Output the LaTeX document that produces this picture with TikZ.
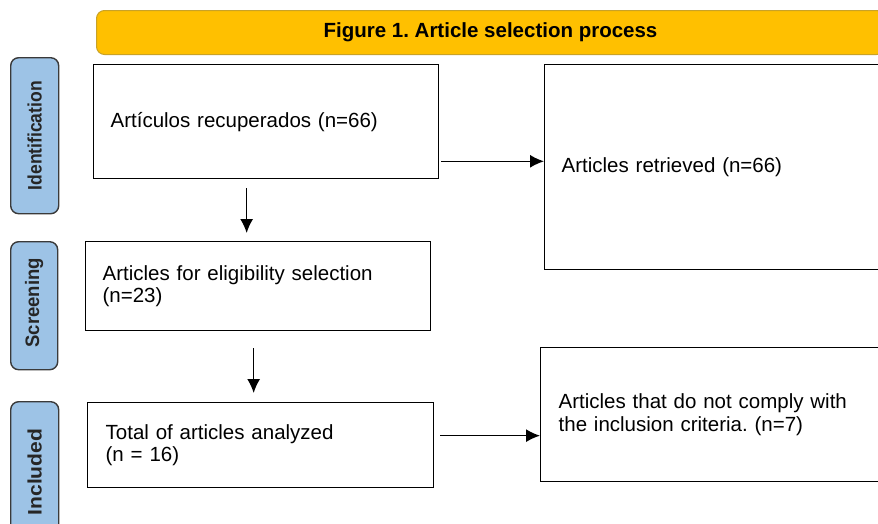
\documentclass[tikz,border=0pt]{standalone}
\usepackage{fontspec}
\setmainfont{Liberation Sans}
\usetikzlibrary{arrows.meta,calc}
\definecolor{titlegold}{HTML}{FFC000}
\definecolor{titleedge}{HTML}{C9A227}
\definecolor{stageblue}{HTML}{9DC3E6}
\definecolor{stageedge}{HTML}{3A3A3A}
\frenchspacing
\tikzset{
  txt/.style={font=\fontsize{20.5}{22.5}\selectfont},
  box/.style={draw=black, line width=1.3pt, fill=white, anchor=north west,
    inner xsep=17pt, inner ysep=0pt, align=left, txt},
  stage/.style={draw=stageedge, fill=stageblue, line width=1.4pt, rounded corners=8pt,
    anchor=north west, inner sep=0pt},
  stagelbl/.style={rotate=90, font=\fontsize{19.5}{22}\selectfont\bfseries, text=black!85},
  arr/.style={-{Latex[length=14pt,width=13pt]}, line width=1.4pt}
}
\begin{document}
\begin{tikzpicture}[x=1pt,y=-1pt]
\useasboundingbox (0,0) rectangle (878,523);
\clip (0,0) rectangle (878,523);
% title
\node[draw=titleedge, fill=titlegold, line width=1pt, rounded corners=8pt, anchor=north west,
  minimum width=788pt, minimum height=44pt, inner sep=0pt,
  font=\fontsize{20.5}{22.5}\selectfont\bfseries] (title) at (96,10) {Figure 1. Article selection process};
% stages
\node[stage, minimum width=48pt, minimum height=156pt] (s1) at (10,57) {};
\node[stagelbl] (l1) at (s1.center) {\scalebox{0.9}[1]{Identification}};
\node[stage, minimum width=47pt, minimum height=128pt] (s2) at (10,241) {};
\node[stagelbl] (l2) at ([yshift=3pt]s2.center) {\scalebox{0.95}[1]{Screening}};
\node[stage, minimum width=48pt, minimum height=140pt] (s3) at (10,401) {};
\node[stagelbl] (l3) at ([yshift=-71pt]s3.north) {\scalebox{1.08}[1]{Included}};
% boxes
\node[box, minimum width=345pt, minimum height=114pt, text width=311pt] (b1) at (93,64) {Artículos recuperados (n=66)};
\node[box, minimum width=360pt, minimum height=205pt, text width=326pt] (ret) at (544,64) {Articles retrieved (n=66)};
\node[box, minimum width=345pt, minimum height=89pt, text width=311pt] (b2) at (85,241) {Articles for eligibility selection\\(n=23)};
\node[box, minimum width=345pt, minimum height=85pt, text width=310pt, inner xsep=18pt] (b3) at (87,402) {Total of articles analyzed\\(n = 16)};
\node[box, minimum width=360pt, minimum height=134pt, text width=324pt, inner xsep=18pt] (exc) at (540,347) {Articles that do not comply with\\the inclusion criteria. (n=7)};
% arrows
\draw[arr] ([xshift=2pt,yshift=18pt]b1.south east) -- ([yshift=18pt]b1.south east -| ret.west);
\draw[arr, shorten >=8pt] ([xshift=-19.5pt,yshift=-9pt]b1.south) -- ([xshift=-19.5pt]b1.south |- b2.north);
\draw[arr, shorten >=9pt] ([xshift=-4.5pt,yshift=-17pt]b2.south) -- ([xshift=-4.5pt]b2.south |- b3.north);
\draw[arr] ([xshift=6pt,yshift=9.5pt]b3.east) -- ([yshift=9.5pt]b3.east -| exc.west);
\end{tikzpicture}
\end{document}
